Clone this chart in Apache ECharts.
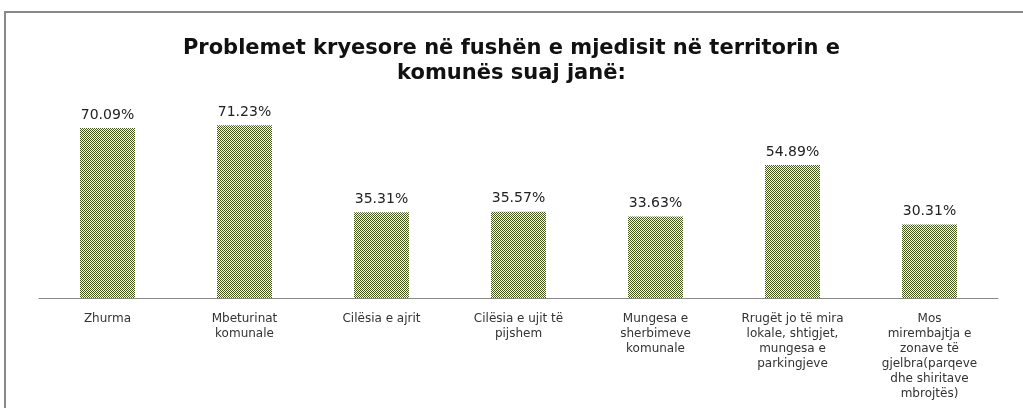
<!DOCTYPE html>
<html>
<head>
<meta charset="utf-8">
<script src="https://cdn.jsdelivr.net/npm/echarts@6/dist/echarts.min.js"></script>
<style>
html,body{margin:0;padding:0;background:#fff;}
#chart{width:1023px;height:408px;}
</style>
</head>
<body>
<div id="chart"></div>
<script>
var categories = [
    'Zhurma',
    'Mbeturinat\nkomunale',
    'Cilësia e ajrit',
    'Cilësia e ujit të\npijshem',
    'Mungesa e\nsherbimeve\nkomunale',
    'Rrugët jo të mira\nlokale, shtigjet,\nmungesa e\nparkingjeve',
    'Mos\nmirembajtja e\nzonave të\ngjelbra(parqeve\ndhe shiritave\nmbrojtës)'
];
var values = [70.09, 71.23, 35.31, 35.57, 33.63, 54.89, 30.31];

// checker pattern like the dotted fill in the picture
function makePattern() {
    var c = document.createElement('canvas');
    c.width = 4; c.height = 4;
    var ctx = c.getContext('2d');
    ctx.fillStyle = '#ffffff';
    ctx.fillRect(0, 0, 4, 4);
    ctx.fillStyle = '#44561a';
    for (var y = 0; y < 4; y++) {
        for (var x = 0; x < 4; x++) {
            if ((x + y) % 2 == 0) ctx.fillRect(x, y, 1, 1);
        }
    }
    return c;
}

var myChart = echarts.init(document.getElementById('chart'));
myChart.setOption({
    animation: false,
    title: {
        text: 'Problemet kryesore në fushën e mjedisit në territorin e\nkomunës suaj janë:',
        left: 'center',
        top: 31,
        textStyle: {
            fontFamily: 'DejaVu Sans',
            fontSize: 21,
            fontWeight: 'bold',
            color: '#111',
            lineHeight: 25
        }
    },
    graphic: [{
        type: 'polyline',
        shape: {points: [[5, 408], [5, 12], [1023, 12]]},
        style: {stroke: '#888', lineWidth: 2, fill: null}
    }],
    grid: {left: 39, right: 25, top: 55.5, bottom: 110},
    xAxis: {
        type: 'category',
        data: categories,
        axisLine: {lineStyle: {color: '#888', width: 1}},
        axisTick: {show: false},
        axisLabel: {
            interval: 0,
            margin: 13,
            fontFamily: 'DejaVu Sans',
            fontSize: 12,
            lineHeight: 15,
            color: '#333',
            align: 'center'
        }
    },
    yAxis: {
        type: 'value',
        min: 0,
        max: 100,
        show: false,
        splitLine: {show: false}
    },
    series: [{
        type: 'bar',
        data: values,
        barWidth: 55,
        itemStyle: {color: {image: makePattern(), repeat: 'repeat'}},
        label: {
            show: true,
            position: 'top',
            distance: 6,
            fontFamily: 'DejaVu Sans',
            fontSize: 14,
            color: '#222',
            formatter: function (p) { return p.value.toFixed(2) + '%'; }
        }
    }]
});
</script>
</body>
</html>
